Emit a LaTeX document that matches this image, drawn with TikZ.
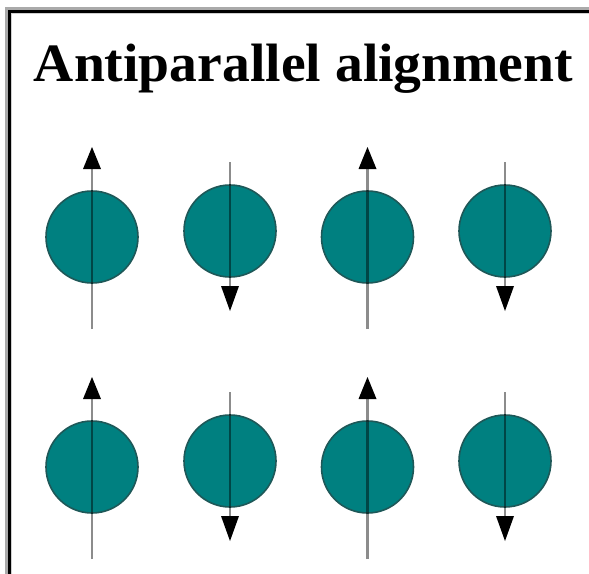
\documentclass[tikz,border=0pt]{standalone}
\usepackage{fontspec}
\setmainfont{Liberation Serif}
\begin{document}
\begin{tikzpicture}[x=1pt,y=-1pt,
  spinball/.style={circle,draw=spinedge,line width=1.6pt,fill=spinfill,minimum size=92pt,inner sep=0pt},
  shaft/.style={draw=black,draw opacity=0.45,line width=2.2pt},
  tiphead/.style={fill=black}]
\definecolor{spinfill}{HTML}{008080}
\definecolor{spinedge}{HTML}{1E5858}
\definecolor{frameA}{HTML}{AAAAAA}
\definecolor{frameC}{HTML}{D0D0D0}
\useasboundingbox (0,0) rectangle (589,573);
% frame
\draw[frameA,line width=3pt] (6.5,575) -- (6.5,8) -- (591,8);
\draw[black,line width=3pt] (9.5,575) -- (9.5,11) -- (591,11);
\draw[frameC,line width=1pt] (11.5,575) -- (11.5,13) -- (591,13);
% title
\node[anchor=base,inner sep=0pt,font=\fontsize{54}{60}\selectfont\bfseries] (title) at (303.5,81) {\scalebox{1.03}[1]{Antiparallel alignment}};
% spins
\foreach \r/\dy in {1/0,2/230}{
  \foreach \c/\cx/\dir in {1/92/u,2/230/d,3/367.5/u,4/505/d}{
    \if\dir u
      \node[spinball] (s\r\c) at (\cx,237+\dy) {};
      \coordinate (t\r\c) at (\cx,329+\dy);
      \coordinate (b\r\c) at (\cx,169+\dy);
      \coordinate (h\r\c) at (\cx,147+\dy);
    \else
      \node[spinball] (s\r\c) at (\cx,231+\dy) {};
      \coordinate (t\r\c) at (\cx,162+\dy);
      \coordinate (b\r\c) at (\cx,286+\dy);
      \coordinate (h\r\c) at (\cx,311+\dy);
    \fi
    \draw[shaft] (t\r\c) -- (b\r\c);
    \fill[tiphead] ([xshift=-9pt]b\r\c) -- ([xshift=9pt]b\r\c) -- (h\r\c) -- cycle;
  }
}
\end{tikzpicture}
\end{document}
